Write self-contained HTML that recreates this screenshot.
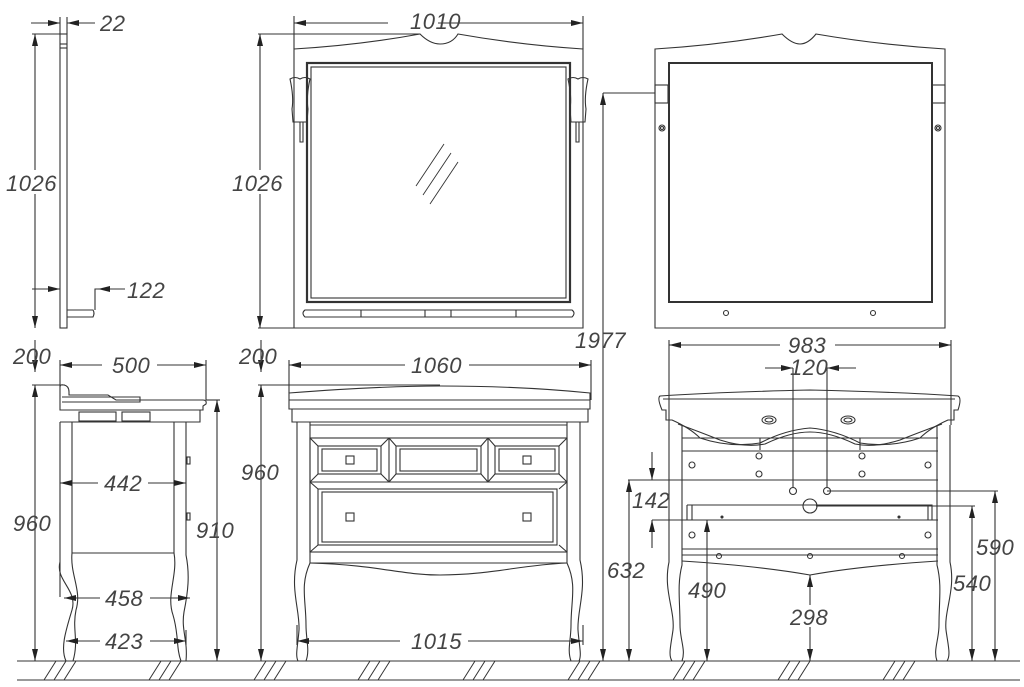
<!DOCTYPE html>
<html><head><meta charset="utf-8"><style>
html,body{margin:0;padding:0;background:#fff;}
svg{display:block}
text{font-family:"Liberation Sans",sans-serif;font-style:italic;font-size:22px;fill:#444;letter-spacing:0.5px;}
</style></head><body>
<svg width="1024" height="687" viewBox="0 0 1024 687" xmlns="http://www.w3.org/2000/svg">
<defs>
<marker id="a" viewBox="0 0 12 6" refX="12" refY="3" markerWidth="12" markerHeight="6" markerUnits="userSpaceOnUse" orient="auto-start-reverse">
<path d="M0,0 L12,3 L0,6 z" fill="#222"/></marker>
</defs>
<g stroke="#333" stroke-width="1.1" fill="none">
<!-- ground -->
<line x1="17" y1="661" x2="1020" y2="661"/>
<line x1="17" y1="680" x2="1020" y2="680"/>
<g stroke-width="1">
<path d="M56,661 l-12,19 M66,661 l-12,19 M76,661 l-12,19"/>
<path d="M161,661 l-12,19 M171,661 l-12,19 M181,661 l-12,19"/>
<path d="M266,661 l-12,19 M276,661 l-12,19 M286,661 l-12,19"/>
<path d="M370,661 l-12,19 M380,661 l-12,19 M390,661 l-12,19"/>
<path d="M475,661 l-12,19 M485,661 l-12,19 M495,661 l-12,19"/>
<path d="M580,661 l-12,19 M590,661 l-12,19 M600,661 l-12,19"/>
<path d="M685,661 l-12,19 M695,661 l-12,19 M705,661 l-12,19"/>
<path d="M790,661 l-12,19 M800,661 l-12,19 M810,661 l-12,19"/>
<path d="M895,661 l-12,19 M905,661 l-12,19 M915,661 l-12,19"/>
</g>

<!-- LEFT SIDE MIRROR -->
<rect x="60" y="34" width="7" height="294"/>
<line x1="60" y1="44" x2="67" y2="44"/><line x1="60" y1="48" x2="67" y2="48"/>
<path d="M67,310 H93 Q95,313 93,317 H67"/>
<line x1="32" y1="34" x2="60" y2="34"/>
<line x1="31" y1="23" x2="60" y2="23" marker-end="url(#a)"/>
<line x1="95" y1="23" x2="67" y2="23" marker-end="url(#a)"/>
<line x1="60" y1="17" x2="60" y2="34"/><line x1="67" y1="17" x2="67" y2="34"/>
<line x1="35" y1="34" x2="35" y2="328" marker-start="url(#a)" marker-end="url(#a)"/>
<line x1="32" y1="289" x2="60" y2="289" marker-end="url(#a)"/>
<path d="M95,310 V289 H125"/>
<line x1="125" y1="289" x2="98" y2="289" marker-end="url(#a)"/>

<!-- MIDDLE MIRROR -->
<path d="M294,328 V49 Q360,45 420,34 Q430,44 440,44 Q452,44 458,34 Q520,45 583,49 V328 Z"/>
<rect x="307" y="63" width="263" height="239" stroke-width="2.2"/>
<rect x="311" y="67" width="255" height="231"/>
<path d="M305,310 H572 Q576,313 572,317 H305 Q301,313 305,310 Z"/>
<path d="M361,310 v7 M425,310 v7 M451,310 v7 M516,310 v7"/>
<path d="M416,186 l28,-42 M423,195 l28,-42 M430,204 l28,-42" stroke-width="0.9"/>
<!-- sconces -->
<path d="M290,79 q5,-3 10,0 q5,-3 10,0 q-4,18 -2,30 l-1,13 h-14 l-1,-13 q2,-12 -2,-30z"/>
<path d="M300,122 v20 h3 v-20"/>
<path d="M568,79 q5,-3 10,0 q5,-3 10,0 q-4,18 -2,30 l-1,13 h-14 l-1,-13 q2,-12 -2,-30z"/>
<path d="M576,122 v20 h3 v-20"/>
<line x1="294" y1="16" x2="294" y2="49"/><line x1="583" y1="16" x2="583" y2="49"/>
<line x1="294" y1="23" x2="583" y2="23" marker-start="url(#a)" marker-end="url(#a)"/>
<line x1="258" y1="34" x2="420" y2="34"/>
<line x1="258" y1="328" x2="294" y2="328"/>
<line x1="260" y1="34" x2="260" y2="328" marker-start="url(#a)" marker-end="url(#a)"/>

<!-- RIGHT MIRROR (back) -->
<path d="M655,328 V49 Q720,45 782,34 Q792,44 800,44 Q808,44 816,34 Q880,45 945,49 V328 Z"/>
<rect x="669" y="63" width="263" height="239" stroke-width="2"/>
<rect x="655" y="85" width="13" height="18"/><rect x="932" y="85" width="13" height="18"/>
<circle cx="662" cy="128" r="3"/><circle cx="662" cy="128" r="1.5"/>
<circle cx="938" cy="128" r="3"/><circle cx="938" cy="128" r="1.5"/>
<circle cx="726" cy="313" r="2.5"/><circle cx="873" cy="313" r="2.5"/>
<line x1="603" y1="93" x2="655" y2="93"/>
<line x1="603" y1="661" x2="603" y2="93" marker-start="url(#a)" marker-end="url(#a)"/>

<!-- LEFT SIDE VANITY -->
<path d="M60,410 V387 Q60,384 64,385 Q69,386 69,392 V395 H108 L116,400 H203 Q207,400 206,404 L203,406 V410 Z"/>
<path d="M62,397 H140 V402 H62"/>
<path d="M60,410 H200 V422 H60"/>
<rect x="79" y="412" width="37" height="9"/><rect x="122" y="412" width="28" height="9"/>
<path d="M60,422 V597 M72,422 V553"/>
<path d="M60,562 C55,580 78,590 72,610 C66,630 60,648 66,661 H73 C79,640 72,630 76,610 C82,590 70,575 72,553"/>
<path d="M174,422 V553 C178,575 166,595 173,615 C179,635 176,648 181,661 H186 C188,640 181,630 184,612 C188,592 190,575 186,555 V422"/>
<line x1="72" y1="553" x2="174" y2="553"/>
<rect x="187" y="457" width="3" height="7"/><rect x="187" y="513" width="3" height="7"/>
<line x1="206" y1="360" x2="206" y2="400"/><line x1="60" y1="360" x2="60" y2="387"/>
<line x1="60" y1="365" x2="110" y2="365" marker-start="url(#a)"/>
<line x1="155" y1="365" x2="206" y2="365" marker-end="url(#a)"/>
<line x1="32" y1="385" x2="65" y2="385"/>
<line x1="35" y1="340" x2="35" y2="372" marker-end="url(#a)"/>
<line x1="35" y1="385" x2="35" y2="661" marker-start="url(#a)" marker-end="url(#a)"/>
<line x1="206" y1="400" x2="220" y2="400"/>
<line x1="217" y1="400" x2="217" y2="661" marker-start="url(#a)" marker-end="url(#a)"/>
<line x1="60" y1="483" x2="98" y2="483" marker-start="url(#a)"/>
<line x1="148" y1="483" x2="186" y2="483" marker-end="url(#a)"/>
<line x1="64" y1="598" x2="100" y2="598" marker-start="url(#a)"/>
<line x1="150" y1="598" x2="190" y2="598" marker-end="url(#a)"/>
<line x1="66" y1="641" x2="100" y2="641" marker-start="url(#a)"/>
<line x1="150" y1="641" x2="186" y2="641" marker-end="url(#a)"/>
<line x1="186" y1="630" x2="186" y2="645"/>

<!-- MIDDLE VANITY -->
<path d="M289,409 V393 Q380,386 440,386 Q520,386 590,393 V409 Z"/>
<line x1="289" y1="400" x2="590" y2="400"/>
<path d="M292,409 V422 H588 V409"/>
<path d="M297,422 V560 C290,590 300,610 299,630 C298,645 295,655 298,661 H306 C310,650 306,640 306,625 C306,600 300,585 310,563 V422"/>
<path d="M580,422 V560 C587,590 577,610 578,630 C579,645 582,655 579,661 H571 C567,650 571,640 571,625 C571,600 577,585 567,563 V422"/>
<line x1="310" y1="425" x2="567" y2="425"/>
<rect x="310" y="438" width="257" height="114"/>
<line x1="310" y1="482" x2="567" y2="482"/>
<line x1="389" y1="438" x2="389" y2="482"/><line x1="488" y1="438" x2="488" y2="482"/>
<rect x="318" y="446" width="63" height="28"/><rect x="322" y="449" width="55" height="22"/>
<rect x="396" y="446" width="85" height="28"/><rect x="400" y="449" width="77" height="22"/>
<rect x="495" y="446" width="64" height="28"/><rect x="499" y="449" width="56" height="22"/>
<rect x="318" y="489" width="239" height="56"/><rect x="322" y="492" width="231" height="50"/>
<path d="M310,438 l8,8 M389,438 l-8,8 M389,438 l7,8 M488,438 l-7,8 M488,438 l7,8 M567,438 l-8,8 M310,482 l8,-8 M389,482 l-8,-8 M389,482 l7,-8 M488,482 l-7,-8 M488,482 l7,-8 M567,482 l-8,-8 M310,482 l8,7 M567,482 l-8,7 M310,552 l8,-7 M567,552 l-8,-7"/>
<rect x="346" y="456" width="8" height="8"/><rect x="523" y="456" width="8" height="8"/>
<rect x="346" y="513" width="8" height="8"/><rect x="523" y="513" width="8" height="8"/>
<path d="M310,563 H567 M310,563 C380,565 400,575 440,575 C490,575 520,565 567,563"/>
<line x1="289" y1="360" x2="289" y2="393"/><line x1="591" y1="360" x2="591" y2="400"/>
<line x1="289" y1="365" x2="408" y2="365" marker-start="url(#a)"/>
<line x1="468" y1="365" x2="591" y2="365" marker-end="url(#a)"/>
<line x1="258" y1="385" x2="440" y2="385"/>
<line x1="261" y1="340" x2="261" y2="372" marker-end="url(#a)"/>
<line x1="261" y1="385" x2="261" y2="661" marker-start="url(#a)" marker-end="url(#a)"/>
<line x1="297" y1="641" x2="410" y2="641" marker-start="url(#a)"/>
<line x1="468" y1="641" x2="583" y2="641" marker-end="url(#a)"/>
<line x1="297" y1="625" x2="297" y2="645"/><line x1="583" y1="625" x2="583" y2="645"/>

<!-- RIGHT VANITY (back) -->
<path d="M660,396 Q720,392 810,390 Q900,392 958,396 Q962,398 958,410 L954,410 V420 H948 Q930,428 920,438 Q890,448 860,443 Q835,430 810,428 Q785,430 760,443 Q730,448 700,438 Q690,428 672,420 H666 V410 L662,410 Q657,398 660,396 Z"/>
<path d="M663,399 H955 M678,424 Q700,432 720,440 Q745,448 765,444 Q790,432 810,432 Q830,432 855,444 Q875,448 900,440 Q920,432 942,424"/>
<ellipse cx="769" cy="420" rx="7" ry="4"/><ellipse cx="769" cy="420" rx="4" ry="2"/>
<ellipse cx="848" cy="420" rx="7" ry="4"/><ellipse cx="848" cy="420" rx="4" ry="2"/>
<path d="M669,425 V562 C663,590 675,610 673,630 C671,645 668,655 672,661 H682 C686,650 680,640 680,625 C680,600 677,585 682,565 V425"/>
<path d="M950,425 V562 C956,590 944,610 946,630 C948,645 951,655 947,661 H937 C933,650 939,640 939,625 C939,600 942,585 937,565 V425"/>
<path d="M682,438 H938 M682,451 H938 M682,480 H938 M682,520 H938 M682,549 H938 M682,555 H938"/>
<path d="M692,438 H752 M760,438 V450 M860,438 V450"/>
<path d="M687,505 V520 M687,505 H932 V520 M692,505 V520 M928,505 V520"/>
<circle cx="692" cy="465" r="3"/><circle cx="759" cy="456" r="3"/><circle cx="759" cy="474" r="3"/>
<circle cx="862" cy="456" r="3"/><circle cx="862" cy="474" r="3"/><circle cx="928" cy="465" r="3"/>
<circle cx="793" cy="491" r="3.5"/><circle cx="827" cy="491" r="3.5"/><circle cx="810" cy="506" r="7"/>
<circle cx="692" cy="535" r="3"/><circle cx="928" cy="535" r="3"/>
<circle cx="722" cy="517" r="1" fill="#333"/><circle cx="899" cy="517" r="1" fill="#333"/>
<circle cx="719" cy="556" r="2.5"/><circle cx="810" cy="556" r="2.5"/><circle cx="902" cy="556" r="2.5"/>
<path d="M682,561 Q760,566 810,575 Q860,566 938,561"/>
<line x1="669" y1="340" x2="669" y2="425"/><line x1="951" y1="340" x2="951" y2="425"/>
<line x1="669" y1="345" x2="785" y2="345" marker-start="url(#a)"/>
<line x1="835" y1="345" x2="951" y2="345" marker-end="url(#a)"/>
<line x1="765" y1="368" x2="793" y2="368" marker-end="url(#a)"/>
<line x1="856" y1="368" x2="827" y2="368" marker-end="url(#a)"/>
<line x1="793" y1="368" x2="793" y2="488"/><line x1="827" y1="368" x2="827" y2="488"/>
<line x1="827" y1="491" x2="998" y2="491"/>
<line x1="816" y1="506" x2="975" y2="506"/>
<line x1="628" y1="480" x2="682" y2="480"/>
<line x1="652" y1="520" x2="682" y2="520"/>
<line x1="652" y1="452" x2="652" y2="480" marker-end="url(#a)"/>
<line x1="652" y1="548" x2="652" y2="520" marker-end="url(#a)"/>
<line x1="629" y1="480" x2="629" y2="661" marker-start="url(#a)" marker-end="url(#a)"/>
<line x1="707" y1="520" x2="707" y2="661" marker-start="url(#a)" marker-end="url(#a)"/>
<line x1="810" y1="575" x2="810" y2="661" marker-start="url(#a)" marker-end="url(#a)"/>
<line x1="972" y1="506" x2="972" y2="661" marker-start="url(#a)" marker-end="url(#a)"/>
<line x1="995" y1="491" x2="995" y2="661" marker-start="url(#a)" marker-end="url(#a)"/>
</g>

<g stroke-width="0" fill="#fff">
<rect x="388" y="12" width="50" height="20"/>
<rect x="102" y="355" width="55" height="20"/>
<rect x="405" y="355" width="64" height="20"/>
<rect x="780" y="335" width="55" height="20"/>
<rect x="400" y="630" width="65" height="20"/>
<rect x="784" y="605" width="52" height="22"/>
<rect x="250" y="170" width="28" height="24"/>
<rect x="25" y="170" width="22" height="24"/>
</g>
<text x="100" y="31">22</text>
<text x="6" y="191">1026</text>
<text x="127" y="298">122</text>
<text x="410" y="29">1010</text>
<text x="232" y="191">1026</text>
<text x="575" y="348">1977</text>
<text x="13" y="364">200</text>
<text x="239" y="364">200</text>
<text x="112" y="373">500</text>
<text x="104" y="491">442</text>
<text x="105" y="606">458</text>
<text x="105" y="649">423</text>
<text x="13" y="531">960</text>
<text x="241" y="480">960</text>
<text x="196" y="538">910</text>
<text x="411" y="373">1060</text>
<text x="411" y="649">1015</text>
<text x="788" y="353">983</text>
<text x="790" y="375">120</text>
<text x="632" y="508">142</text>
<text x="607" y="578">632</text>
<text x="688" y="598">490</text>
<text x="790" y="625">298</text>
<text x="976" y="555">590</text>
<text x="953" y="591">540</text>
</svg>
</body></html>
